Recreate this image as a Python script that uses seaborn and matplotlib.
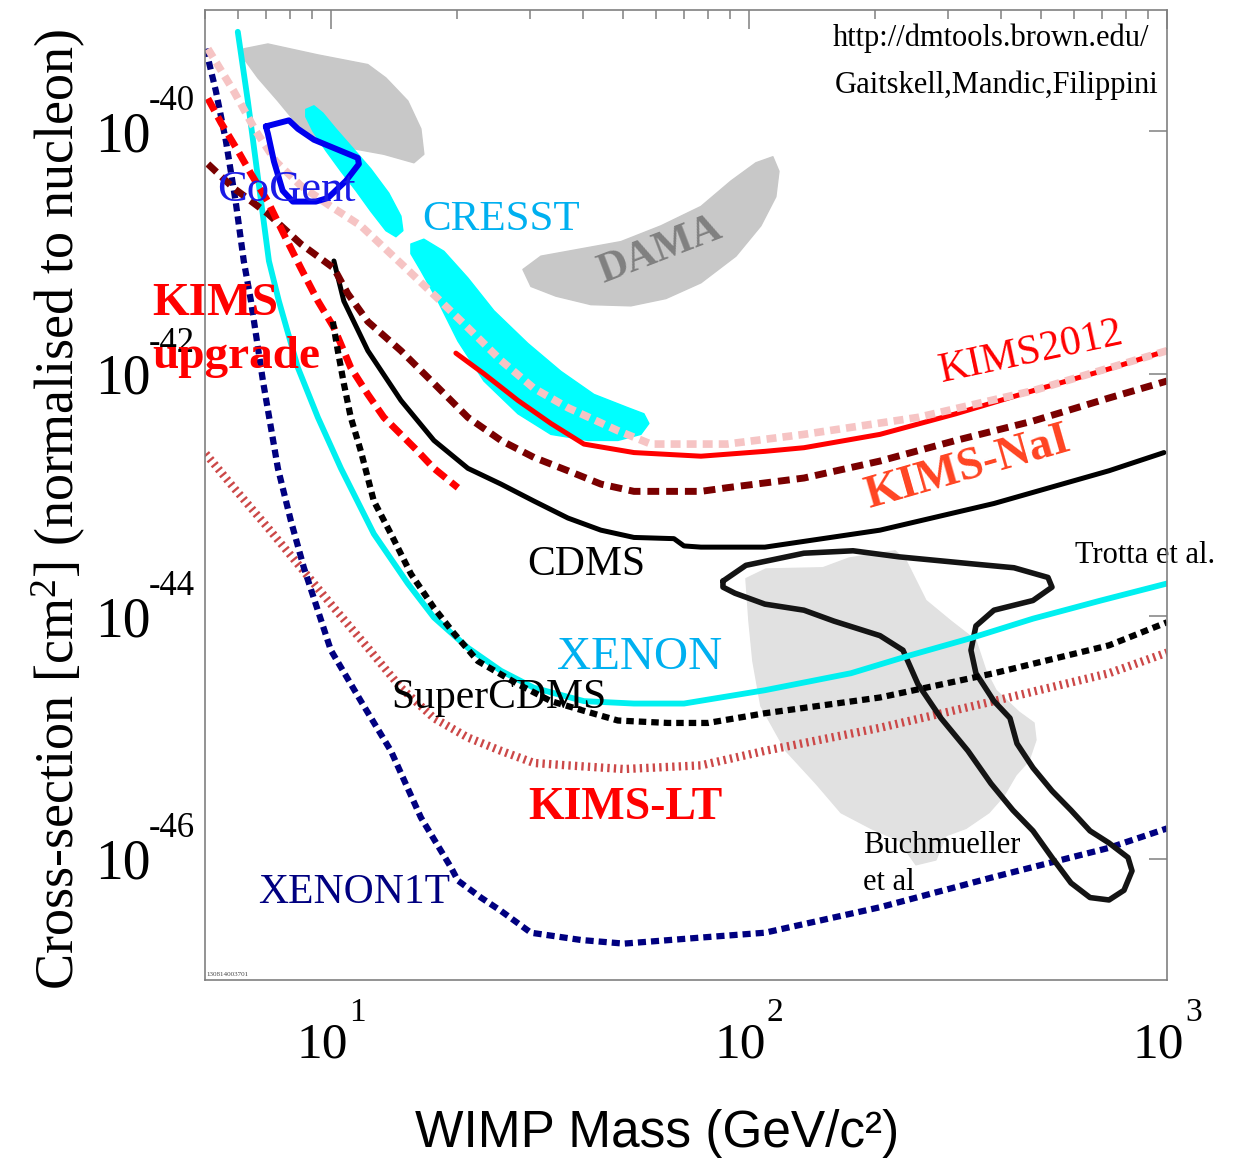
import numpy as np
import pandas as pd
import matplotlib
matplotlib.use("Agg")
import matplotlib.pyplot as plt
import seaborn as sns
from matplotlib.ticker import LogLocator, NullLocator, NullFormatter
from matplotlib.transforms import ScaledTranslation

# ---------------- data: WIMP mass [GeV/c^2], log10 cross-section [cm^2] ----------------
xenon1t_mass = [5.02, 5.31, 5.61, 5.92, 6.19, 6.44, 6.88, 7.47, 8.02, 8.62, 10.0, 11.8, 13.92,
                16.42, 19.37, 20.13, 22.85, 25.52, 30.1, 39.64, 50.23, 76.78, 109.2, 205.8,
                385.6, 726.6, 1000]
xenon1t_logsig = [-39.32, -39.67, -40.08, -40.58, -41.07, -41.40, -42.06, -42.78, -43.21, -43.60,
                  -44.28, -44.70, -45.11, -45.66, -46.07, -46.18, -46.32, -46.43, -46.61, -46.67,
                  -46.70, -46.65, -46.61, -46.40, -46.15, -45.91, -45.75]

xenon_mass = [5.99, 6.33, 6.81, 7.11, 7.51, 8.34, 9.31, 10.57, 12.67, 15.28, 17.64, 21.27, 25.52,
              30.6, 40.3, 53.08, 69.92, 109.2, 175.4, 244.2, 339.7, 478.0, 695.1, 1000]
xenon_logsig = [-39.18, -39.75, -40.58, -41.07, -41.40, -41.95, -42.36, -42.78, -43.32, -43.73,
                -44.01, -44.26, -44.45, -44.59, -44.70, -44.72, -44.72, -44.61, -44.47, -44.32,
                -44.18, -44.02, -43.87, -43.73]

cdms_mass = [10.17, 10.74, 12.26, 14.71, 17.64, 21.27, 25.52, 30.6, 36.9, 44.25, 53.08, 66.17,
             69.92, 76.78, 109.2, 205.8, 385.6, 726.6, 983.5]
cdms_logsig = [-41.07, -41.40, -41.81, -42.22, -42.55, -42.78, -42.91, -43.05, -43.19, -43.29,
               -43.35, -43.36, -43.42, -43.43, -43.43, -43.29, -43.07, -42.80, -42.65]

supercdms_mass = [10.11, 10.39, 10.74, 11.16, 11.8, 12.67, 13.92, 15.54, 17.64, 19.69, 22.47,
                  28.02, 33.6, 40.3, 48.61, 64.02, 79.79, 109.2, 205.8, 385.6, 726.6, 1000]
supercdms_logsig = [-41.57, -41.81, -42.08, -42.36, -42.64, -43.05, -43.32, -43.65, -43.93,
                    -44.14, -44.37, -44.56, -44.70, -44.78, -44.86, -44.88, -44.88, -44.80,
                    -44.67, -44.47, -44.24, -44.05]

kimslt_mass = [5.02, 5.86, 7.07, 8.48, 10.17, 12.26, 14.71, 17.64, 21.27, 25.52, 30.6, 36.9,
               50.23, 76.78, 109.2, 205.8, 385.6, 726.6, 1000]
kimslt_logsig = [-42.66, -42.94, -43.27, -43.60, -43.93, -44.26, -44.59, -44.84, -45.00, -45.11,
                 -45.21, -45.23, -45.26, -45.23, -45.11, -44.92, -44.70, -44.47, -44.30]

kims2012_mass = [19.91, 23.23, 28.02, 33.6, 40.3, 53.08, 76.78, 109.2, 135.4, 205.8, 312.7,
                 478.0, 726.6, 1000]
kims2012_logsig = [-41.83, -42.00, -42.22, -42.41, -42.58, -42.65, -42.68, -42.64, -42.61,
                   -42.50, -42.33, -42.14, -41.96, -41.81]

pink_mass = [5.08, 5.86, 6.62, 7.39, 8.48, 10.0, 11.8, 14.71, 18.03, 21.27, 25.52, 30.6, 36.9,
             48.61, 58.29, 88.61, 135.4, 253.7, 478.0, 1000]
pink_logsig = [-39.32, -39.67, -40.00, -40.25, -40.45, -40.62, -40.78, -41.09, -41.38, -41.62,
               -41.89, -42.12, -42.28, -42.47, -42.58, -42.58, -42.50, -42.36, -42.14, -41.81]

kimsnai_mass = [5.08, 5.86, 7.07, 8.48, 10.17, 10.98, 12.26, 14.71, 17.64, 21.27, 25.52, 30.6,
                36.9, 44.25, 53.08, 76.78, 88.61, 135.4, 205.8, 312.7, 478.0, 726.6, 1000]
kimsnai_logsig = [-40.27, -40.47, -40.68, -40.93, -41.13, -41.34, -41.57, -41.81, -42.08,
                  -42.36, -42.55, -42.69, -42.80, -42.91, -42.97, -42.97, -42.94, -42.86,
                  -42.72, -42.55, -42.39, -42.20, -42.06]

kimsup_mass = [5.08, 5.46, 5.99, 6.44, 7.07, 7.72, 8.48, 9.31, 10.17, 11.16, 12.26, 13.39,
               14.71, 16.15, 17.64, 20.13]
kimsup_logsig = [-39.73, -39.93, -40.16, -40.35, -40.58, -40.85, -41.13, -41.40, -41.62, -41.95,
                 -42.17, -42.36, -42.50, -42.64, -42.78, -42.94]

cogent_mass = [6.99, 7.94, 8.34, 9.11, 11.60, 11.67, 10.86, 9.84, 9.21, 8.11, 7.67, 7.31, 7.07,
               6.99]
cogent_logsig = [-39.96, -39.91, -39.98, -40.07, -40.22, -40.27, -40.41, -40.55, -40.58, -40.58,
                 -40.49, -40.25, -40.02, -39.96]

cresst1_mass = [8.71, 9.11, 9.57, 10.28, 11.29, 12.46, 13.76, 14.71, 14.87, 14.31, 13.54, 12.46,
                11.48, 10.57, 9.73, 9.06, 8.71]
cresst1_logsig = [-39.82, -39.79, -39.85, -39.98, -40.14, -40.31, -40.51, -40.70, -40.82, -40.87,
                  -40.82, -40.66, -40.49, -40.33, -40.16, -40.00, -39.88]
cresst2_mass = [15.54, 16.69, 18.64, 21.27, 24.55, 29.6, 35.5, 42.58, 51.35, 56.08, 57.65, 55.16,
                48.61, 41.2, 33.6, 28.02, 23.23, 20.13, 18.03, 16.42, 15.54]
cresst2_logsig = [-40.93, -40.89, -40.99, -41.21, -41.48, -41.75, -41.98, -42.17, -42.28, -42.33,
                  -42.41, -42.50, -42.55, -42.55, -42.50, -42.33, -42.06, -41.73, -41.40,
                  -41.15, -41.01]

dama1_mass = [6.19, 7.07, 9.31, 12.26, 13.54, 15.28, 16.42, 16.69, 15.80, 13.39, 11.16, 9.31,
              8.48, 7.47, 6.69, 6.19]
dama1_logsig = [-39.32, -39.28, -39.37, -39.45, -39.56, -39.75, -39.98, -40.19, -40.26, -40.19,
                -40.14, -40.06, -39.98, -39.75, -39.56, -39.40]
dama2_mass = [28.8, 31.8, 39.64, 49.42, 61.59, 76.78, 90.58, 103.9, 114.1, 118.0, 116.0, 106.8,
              93.1, 76.78, 63.31, 52.21, 41.88, 34.54, 30.1]
dama2_logsig = [-41.14, -41.03, -40.97, -40.91, -40.78, -40.62, -40.41, -40.26, -40.21, -40.33,
                -40.54, -40.78, -41.03, -41.25, -41.38, -41.44, -41.43, -41.36, -41.28]

buch_mass = [98.36, 109.8, 150.3, 173.5, 223.6, 237.5, 265.1, 304.2, 349.1, 368.9, 389.9, 442.5,
             480.7, 486.0, 467.6, 435.3, 407.4, 375.1, 330.4, 296.0, 280.1, 250.9, 228.5, 195.9,
             166.0, 144.7, 122.6, 106.8, 102.2, 100.0]
buch_logsig = [-43.69, -43.61, -43.60, -43.52, -43.46, -43.54, -43.87, -44.04, -44.20, -44.45,
               -44.61, -44.79, -44.88, -45.02, -45.19, -45.31, -45.48, -45.62, -45.75, -45.81,
               -46.01, -46.05, -45.85, -45.75, -45.62, -45.38, -45.11, -44.74, -44.37, -44.04]

trotta_mass = [86.67, 98.36, 135.4, 177.4, 228.5, 347.2, 430.5, 519.2, 530.8, 478.0, 385.6,
               349.1, 339.7, 349.1, 385.6, 421.1, 437.7, 478.0, 530.8, 589.4, 654.4, 726.6,
               806.7, 824.7, 789.1, 726.6, 654.4, 589.4, 530.8, 478.0, 428.1, 379.3, 334.1,
               287.9, 253.7, 233.6, 205.8, 159.7, 135.4, 109.2, 92.59, 86.67, 86.67]
trotta_logsig = [-43.71, -43.58, -43.48, -43.46, -43.51, -43.57, -43.60, -43.68, -43.76, -43.87,
                 -43.95, -44.08, -44.28, -44.47, -44.70, -44.84, -45.05, -45.25, -45.44, -45.60,
                 -45.77, -45.87, -45.99, -46.10, -46.26, -46.34, -46.32, -46.20, -45.99, -45.77,
                 -45.60, -45.38, -45.11, -44.84, -44.56, -44.28, -44.16, -44.04, -43.95, -43.90,
                 -43.81, -43.76, -43.71]

x_major = [10, 100, 1000]
y_major = [1e-46, 1e-44, 1e-42, 1e-40]
x_sup = ["1", "2", "3"]
y_sup = ["-46", "-44", "-42", "-40"]

# ---------------- figure ----------------
sns.set_theme(style="white")
plt.rcParams["font.family"] = ["Liberation Serif", "DejaVu Serif"]
plt.rcParams["text.color"] = "black"
plt.rcParams["axes.labelcolor"] = "black"
plt.rcParams["xtick.color"] = "black"
plt.rcParams["ytick.color"] = "black"
plt.rcParams["mathtext.fontset"] = "custom"
plt.rcParams["mathtext.rm"] = "Liberation Serif"
plt.rcParams["mathtext.it"] = "Liberation Serif:italic"
plt.rcParams["mathtext.bf"] = "Liberation Serif:bold"

DPI = 100
fig = plt.figure(figsize=(12.47, 11.59), dpi=DPI)
ax = fig.add_axes([205 / 1247, 1 - 980 / 1159, 962 / 1247, 970 / 1159])
ax.set_facecolor("white")
ax.set_xscale("log")
ax.set_yscale("log")
ax.set_xlim(5, 1000)
ax.set_ylim(1e-47, 1e-39)


def sig(logs):
    return 10.0 ** np.asarray(logs, dtype=float)


def line(mass, logs, color, lw, dashes=None, z=3):
    df = pd.DataFrame({"mass": mass, "sigma": sig(logs)})
    sns.lineplot(data=df, x="mass", y="sigma", sort=False, estimator=None, color=color,
                 linewidth=lw, ax=ax, zorder=z, legend=False)
    ln = ax.lines[-1]
    if dashes is not None:
        ln.set_dashes(dashes)
        ln.set_dash_capstyle("butt")
    else:
        ln.set_solid_capstyle("round")
        ln.set_solid_joinstyle("round")
    return ln


def region(mass, logs, color, z=1):
    ax.fill(mass, sig(logs), color=color, lw=1, ec=color, zorder=z, joinstyle="round")


# filled regions
region(dama1_mass, dama1_logsig, "#C8C8C8", 1)
region(dama2_mass, dama2_logsig, "#C8C8C8", 1)
region(buch_mass, buch_logsig, "#E1E1E1", 1)
region(cresst1_mass, cresst1_logsig, "#00FFFF", 2)
region(cresst2_mass, cresst2_logsig, "#00FFFF", 2)

# curves
line(kimslt_mass, kimslt_logsig, "#CC4848", 6.0, dashes=(0.28, 0.5), z=3)
line(xenon1t_mass, xenon1t_logsig, "#000080", 4.5, dashes=(1.3, 0.8), z=3)
line(trotta_mass, trotta_logsig, "#141414", 4.0, z=4)
line(xenon_mass, xenon_logsig, "#00F0F0", 4.2, z=4)
line(cdms_mass, cdms_logsig, "#000000", 3.6, z=4)
line(supercdms_mass, supercdms_logsig, "#000000", 4.5, dashes=(1.2, 0.8), z=5)
line(kimsnai_mass, kimsnai_logsig, "#7A0000", 5.0, dashes=(1.7, 1.0), z=4)
line(kimsup_mass, kimsup_logsig, "#FF0000", 5.0, dashes=(2.0, 1.0), z=4)
line(kims2012_mass, kims2012_logsig, "#FF0000", 3.6, z=5)
line(pink_mass, pink_logsig, "#F6C4C4", 5.5, dashes=(1.3, 0.8), z=6)
line(cogent_mass, cogent_logsig, "#0000EE", 4.3, z=6)

# ---------------- axes styling ----------------
for s in ax.spines.values():
    s.set_color("#808080")
    s.set_linewidth(1.2)
    s.set_zorder(20)

ax.set_xticks(x_major)
ax.set_xticklabels(["10"] * len(x_major))
ax.xaxis.set_minor_locator(LogLocator(base=10, subs=np.arange(2, 10)))
ax.xaxis.set_minor_formatter(NullFormatter())
ax.set_yticks(y_major)
ax.set_yticklabels(["10"] * len(y_major))
ax.yaxis.set_minor_locator(NullLocator())

ax.tick_params(axis="both", which="both", direction="in", top=True, right=True,
               color="#808080", width=1.1, labelcolor="black")
ax.tick_params(axis="x", which="major", length=13.5, pad=30, labelsize=37)
ax.tick_params(axis="x", which="minor", length=6.5)
ax.tick_params(axis="y", which="major", length=13, pad=39, labelsize=40)

for lab in ax.get_xticklabels():
    lab.set_transform(lab.get_transform() + ScaledTranslation(-9 / DPI, 0, fig.dpi_scale_trans))

for xv, s in zip(x_major, x_sup):
    ax.annotate(s, xy=(xv, 0), xycoords=("data", "axes fraction"), xytext=(18, -33),
                textcoords="offset pixels", ha="left", va="center", fontsize=24,
                color="black", annotation_clip=False)
for yv, s in zip(y_major, y_sup):
    ax.annotate(s, xy=(0, yv), xycoords=("axes fraction", "data"), xytext=(-56, 30),
                textcoords="offset pixels", ha="left", va="center", fontsize=25,
                color="black", annotation_clip=False)

ax.set_xlabel("WIMP Mass (GeV/c²)", fontsize=37, color="black",
              family=["Liberation Sans", "DejaVu Sans"])
ax.xaxis.set_label_coords(0.47, -0.133)
ax.set_ylabel(r"Cross-section [cm$^{2}$] (normalised to nucleon)", fontsize=39, color="black")
ax.yaxis.set_label_coords(-0.122, 0.485)

# ---------------- annotations ----------------
T = ax.transAxes
kw = dict(transform=T, zorder=10)
ax.text(0.982, 0.971, "http://dmtools.brown.edu/", ha="right", va="center", fontsize=22,
        color="black", **kw)
ax.text(0.991, 0.922, "Gaitskell,Mandic,Filippini", ha="right", va="center", fontsize=22,
        color="black", **kw)
ax.text(0.0125, 0.814, "CoGent", ha="left", va="center", fontsize=32, color="#1A1AE6", **kw)
ax.text(0.2256, 0.7835, "CRESST", ha="left", va="center", fontsize=31, color="#00B0F0", **kw)
ax.text(0.473, 0.752, "DAMA", ha="center", va="center", fontsize=30, fontweight="bold",
        color="#808080", rotation=21, **kw)
ax.text(-0.055, 0.686, "KIMS", ha="left", va="baseline", fontsize=34, fontweight="bold",
        color="#FF0000", **kw)
ax.text(-0.055, 0.631, "upgrade", ha="left", va="baseline", fontsize=34, fontweight="bold",
        color="#FF0000", **kw)
ax.text(0.8586, 0.647, "KIMS2012", ha="center", va="center", fontsize=30, color="#FF0000",
        rotation=12, **kw)
ax.text(0.793, 0.528, "KIMS-NaI", ha="center", va="center", fontsize=33, fontweight="bold",
        color="#FF4422", rotation=16, **kw)
ax.text(0.396, 0.428, "CDMS", ha="center", va="center", fontsize=30, color="black", **kw)
ax.text(0.904, 0.438, "Trotta et al.", ha="left", va="center", fontsize=22, color="black", **kw)
ax.text(0.366, 0.332, "XENON", ha="left", va="center", fontsize=34, color="#00B0F0", **kw)
ax.text(0.194, 0.291, "SuperCDMS", ha="left", va="center", fontsize=30, color="black", **kw)
ax.text(0.336, 0.177, "KIMS-LT", ha="left", va="center", fontsize=33, fontweight="bold",
        color="#FF0000", **kw)
ax.text(0.055, 0.0897, "XENON1T", ha="left", va="center", fontsize=30, color="#000080", **kw)
ax.text(0.684, 0.139, "Buchmueller", ha="left", va="center", fontsize=22, color="black", **kw)
ax.text(0.684, 0.101, "et al", ha="left", va="center", fontsize=22, color="black", **kw)
ax.text(0.002, 0.006, "130814003701", ha="left", va="center", fontsize=5, color="#444444", **kw)

fig.savefig("out.png", dpi=DPI, facecolor="white")
